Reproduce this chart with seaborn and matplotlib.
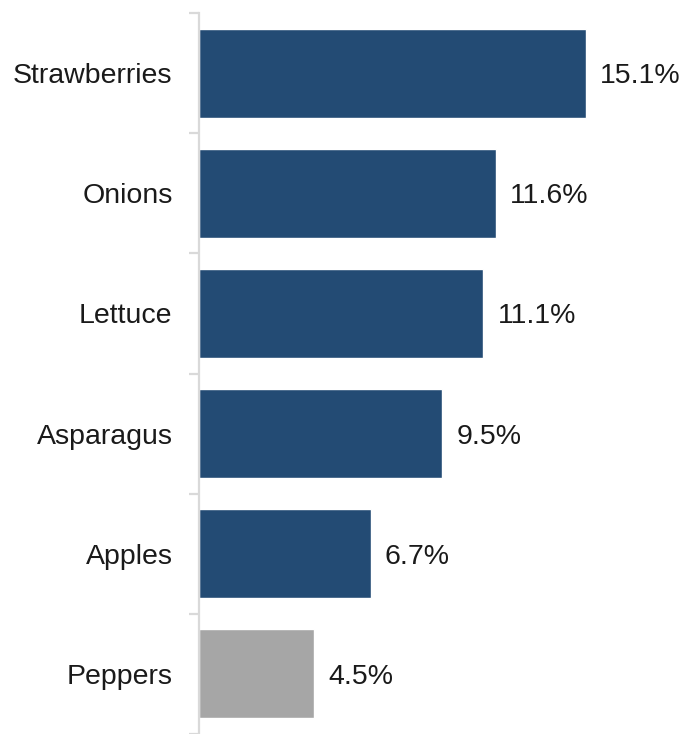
import matplotlib
matplotlib.use("Agg")
import matplotlib.pyplot as plt
import seaborn as sns
import pandas as pd
import numpy as np

categories = ["Strawberries", "Onions", "Lettuce", "Asparagus", "Apples", "Peppers"]
values = [15.1, 11.6, 11.1, 9.5, 6.7, 4.5]
groups = ["main", "main", "main", "main", "main", "other"]

df = pd.DataFrame({"item": categories, "value": values, "group": groups})

sns.set_style("white")
plt.rcParams["font.family"] = ["Liberation Sans", "DejaVu Sans"]

fig = plt.figure(figsize=(6.85, 7.34), dpi=100)
ax = fig.add_axes([199 / 685, 0.0, 486 / 685, 721 / 734])

sns.barplot(data=df, y="item", x="value", hue="group", orient="h",
            palette={"main": "#234B74", "other": "#A6A6A6"},
            width=0.74, dodge=False, legend=False, ax=ax, saturation=1)

ax.set_xlim(0, 486 / 25.63)
ax.set_ylim(len(categories) - 0.5, -0.5)
ax.set_xlabel("")
ax.set_ylabel("")
ax.set_xticks([])

for s in ["top", "right", "bottom"]:
    ax.spines[s].set_visible(False)
ax.spines["left"].set_color("#D9D9D9")
ax.spines["left"].set_linewidth(1.6)

ax.tick_params(axis="y", which="major", left=True, length=0, pad=19,
               labelsize=20.5, labelcolor="#1a1a1a")
ax.set_yticks(np.arange(-0.5, len(categories) + 0.5, 1), minor=True)
ax.tick_params(axis="y", which="minor", left=True, length=7, width=1.6, color="#D9D9D9")

for cont in ax.containers:
    texts = ax.bar_label(cont, labels=[f"{v:.1f}%" for v in cont.datavalues],
                         padding=10, fontsize=20.5, color="#1a1a1a")
    for t in texts:
        t.set_verticalalignment("center_baseline")

fig.savefig("out.png", dpi=100)
